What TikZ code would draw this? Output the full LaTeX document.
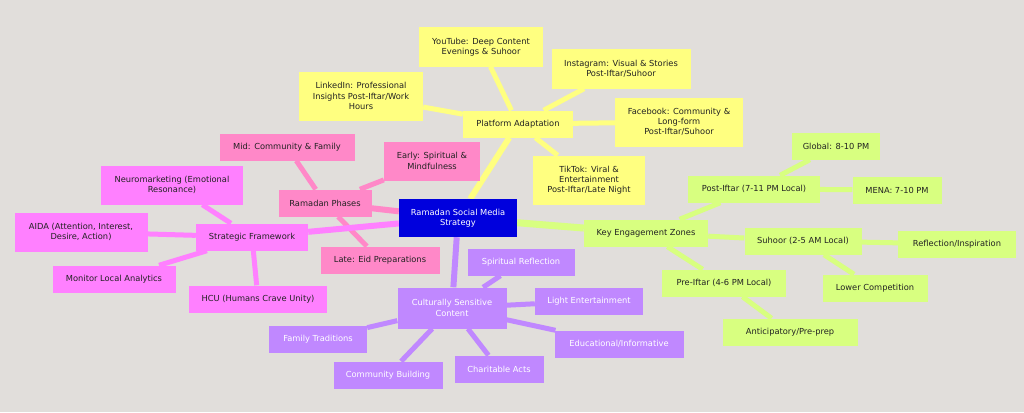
\documentclass[tikz,border=0pt]{standalone}
\usepackage{fontspec}
\setmainfont{DejaVu Sans}
\usetikzlibrary{backgrounds}
\definecolor{bg}{HTML}{E1DEDB}
\definecolor{yel}{HTML}{FFFF80}
\definecolor{pnk}{HTML}{FF88C8}
\definecolor{mag}{HTML}{FF80FF}
\definecolor{pur}{HTML}{C088FF}
\definecolor{grn}{HTML}{D8FF80}
\definecolor{blu}{HTML}{0000DD}
\definecolor{txt}{HTML}{222222}
\begin{document}
\begin{tikzpicture}[x=1pt,y=-1pt,
  box/.style={rectangle,inner xsep=3pt,inner ysep=4pt,align=center,font=\fontsize{8.3}{10.2}\selectfont,text=txt,minimum height=27pt},
  Y/.style={box,fill=yel}, P/.style={box,fill=pnk}, M/.style={box,fill=mag},
  U/.style={box,fill=pur,text=white}, G/.style={box,fill=grn},
  e/.style={line width=5pt}]
\useasboundingbox (0,0) rectangle (1024,412);
\node[box,fill=blu,text=white,minimum width=118pt,minimum height=38pt] (c) at (458,218) {Ramadan Social Media\\Strategy};
% yellow
\node[Y,minimum width=110pt] (pa) at (518,124) {Platform Adaptation};
\node[Y,minimum width=124pt,minimum height=39pt] (yt) at (481,47) {YouTube: Deep Content\\Evenings \& Suhoor};
\node[Y,minimum width=139pt,minimum height=39pt] (ig) at (621,69) {Instagram: Visual \& Stories\\Post-Iftar/Suhoor};
\node[Y,minimum width=124pt,minimum height=49pt] (li) at (361,96) {LinkedIn: Professional\\Insights Post-Iftar/Work\\Hours};
\node[Y,minimum width=128pt,minimum height=49pt] (fb) at (679,122) {Facebook: Community \&\\Long-form\\Post-Iftar/Suhoor};
\node[Y,minimum width=112pt,minimum height=49pt] (tt) at (589,180) {TikTok: Viral \&\\Entertainment\\Post-Iftar/Late Night};
% green
\node[G,minimum width=124pt] (kz) at (646,233) {Key Engagement Zones};
\node[G,minimum width=132pt] (po) at (754,189) {Post-Iftar (7-11 PM Local)};
\node[G,minimum width=88pt] (gl) at (836,146) {Global: 8-10 PM};
\node[G,minimum width=89pt] (me) at (897,190) {MENA: 7-10 PM};
\node[G,minimum width=117pt] (su) at (803,241) {Suhoor (2-5 AM Local)};
\node[G,minimum width=118pt] (re) at (957,244) {Reflection/Inspiration};
\node[G,minimum width=105pt] (lc) at (875,288) {Lower Competition};
\node[G,minimum width=124pt] (pr) at (724,283) {Pre-Iftar (4-6 PM Local)};
\node[G,minimum width=135pt] (an) at (790,332) {Anticipatory/Pre-prep};
% purple
\node[U,minimum width=109pt,minimum height=41pt] (cs) at (452,308) {Culturally Sensitive\\Content};
\node[U,minimum width=107pt] (sr) at (521,262) {Spiritual Reflection};
\node[U,minimum width=108pt] (le) at (589,301) {Light Entertainment};
\node[U,minimum width=129pt] (ed) at (619,344) {Educational/Informative};
\node[U,minimum width=89pt] (ca) at (499,369) {Charitable Acts};
\node[U,minimum width=109pt] (cb) at (388,375) {Community Building};
\node[U,minimum width=98pt] (ft) at (318,339) {Family Traditions};
% pink
\node[P,minimum width=93pt] (rp) at (325,203) {Ramadan Phases};
\node[P,minimum width=135pt] (mi) at (287,147) {Mid: Community \& Family};
\node[P,minimum width=96pt,minimum height=39pt] (ea) at (432,161) {Early: Spiritual \&\\Mindfulness};
\node[P,minimum width=119pt] (la) at (380,260) {Late: Eid Preparations};
% magenta
\node[M,minimum width=112pt] (sf) at (252,237) {Strategic Framework};
\node[M,minimum width=142pt,minimum height=39pt] (ne) at (172,185) {Neuromarketing (Emotional\\Resonance)};
\node[M,minimum width=133pt,minimum height=39pt] (ai) at (81,232) {AIDA (Attention, Interest,\\Desire, Action)};
\node[M,minimum width=123pt] (mo) at (114,279) {Monitor Local Analytics};
\node[M,minimum width=138pt] (hc) at (258,299) {HCU (Humans Crave Unity)};
\begin{scope}[on background layer]
\fill[bg] (0,0) rectangle (1024,412);
\draw[yel,e,line width=6pt] (c)--(pa);
\foreach \n in {yt,ig,li,fb,tt} \draw[yel,e] (pa)--(\n);
\draw[grn,e,line width=7pt] (c)--(kz);
\foreach \n in {po,su,pr} \draw[grn,e] (kz)--(\n);
\draw[grn,e] (po)--(gl); \draw[grn,e] (po)--(me);
\draw[grn,e] (su)--(re); \draw[grn,e] (su)--(lc);
\draw[grn,e] (pr)--(an);
\draw[pur,e,line width=6pt] (c)--(cs);
\foreach \n in {sr,le,ed,ca,cb,ft} \draw[pur,e] (cs)--(\n);
\draw[pnk,e,line width=6pt] (c)--(rp);
\foreach \n in {mi,ea,la} \draw[pnk,e] (rp)--(\n);
\draw[mag,e,line width=6pt] (c)--(sf);
\foreach \n in {ne,ai,mo,hc} \draw[mag,e] (sf)--(\n);
\end{scope}
\end{tikzpicture}
\end{document}
